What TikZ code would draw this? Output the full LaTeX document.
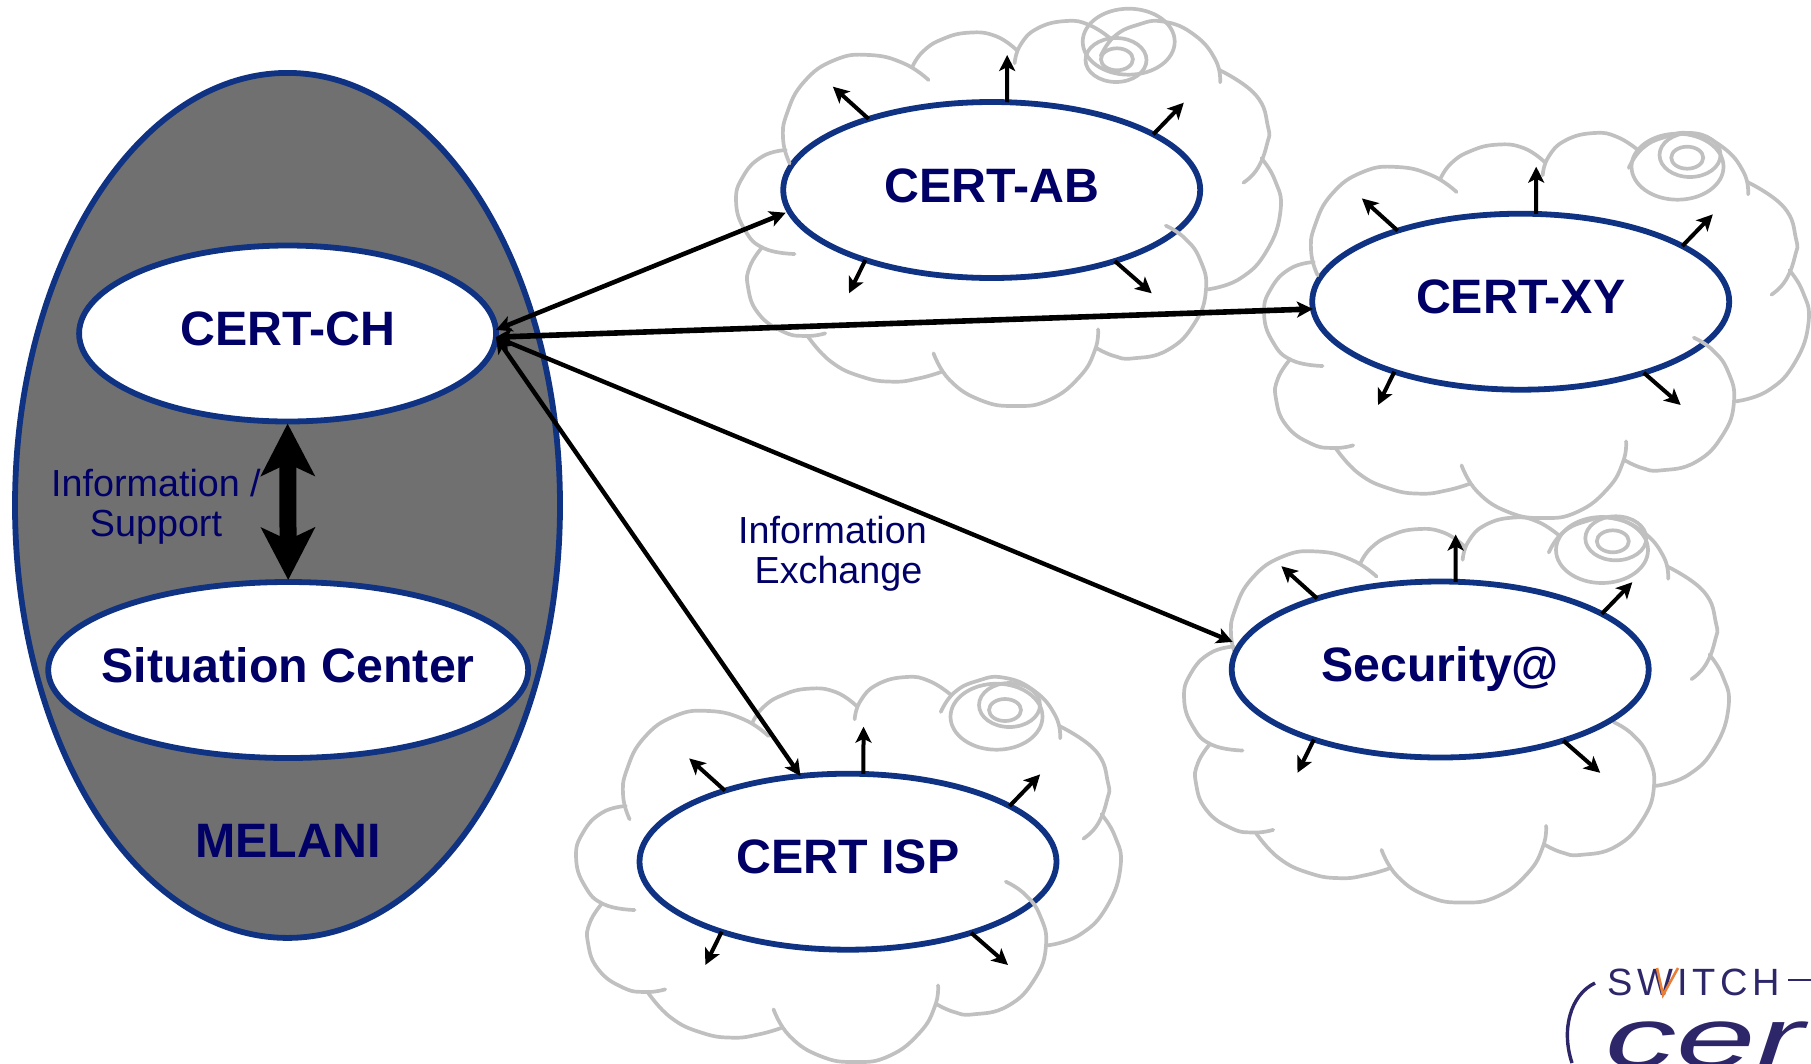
\documentclass[tikz,border=0pt]{standalone}
\usepackage{fontspec}
\setmainfont{Liberation Sans}
\usetikzlibrary{arrows.meta,shapes.geometric}
\definecolor{ringblue}{RGB}{15,50,130}
\definecolor{navytext}{RGB}{0,0,102}
\definecolor{melanigrey}{RGB}{112,112,112}
\definecolor{cloudgrey}{RGB}{192,192,192}
\definecolor{logoblue}{RGB}{45,38,105}
\definecolor{logoorange}{RGB}{232,128,58}
\tikzset{
  blob/.style={ellipse,draw=ringblue,line width=5.8pt,fill=white,inner sep=0pt,outer sep=0pt,
    minimum width=417pt,minimum height=176pt,text=navytext,text height=34pt,text depth=10pt,
    font=\fontsize{48.3}{50}\selectfont\bfseries},
  cloudline/.style={draw=cloudgrey,line width=3.7pt,line cap=round},
  sat/.style={draw=black,line width=4pt,-{Stealth[length=16pt,width=16pt,inset=4pt]}},
  linkarrow/.style={draw=black,line width=#1,{Stealth[length=16pt,width=16pt,inset=4pt]}-{Stealth[length=16pt,width=16pt,inset=4pt]}},
  supportarrow/.style={draw=black,line width=17pt,shorten <=2pt,shorten >=2pt,{Stealth[length=52pt,width=53pt,inset=12pt]}-{Stealth[length=52pt,width=53pt,inset=12pt]}},
  plainlabel/.style={text=navytext,align=center,inner sep=0pt,font=\fontsize{37.7}{40.4}\selectfont},
}
\newcommand{\arcline}[1]{\draw[cloudline] plot[smooth,tension=.8] coordinates {#1};}
% outline of a cloud; coordinates are those of the CERT-AB cloud
\newcommand{\cloudoutline}[2]{%
\begin{scope}[shift={(720+#1,#2)},x=0.38265pt,y=-0.33333pt]
\arcline{(172,450) (110,470) (60,530) (42,605) (65,690) (115,745) (195,762)}
\arcline{(108,745) (78,800) (73,860) (100,940) (165,995) (225,1008) (275,1000)}
\arcline{(230,1010) (290,1085) (370,1130) (450,1145) (520,1135) (580,1115)}
\arcline{(558,1060) (600,1140) (680,1200) (770,1218) (860,1200) (940,1130) (980,1050) (988,988)}
\arcline{(985,1045) (1030,1068) (1080,1075) (1170,1050) (1240,970) (1270,870) (1255,780) (1215,715) (1165,677)}
\arcline{(1275,868) (1360,835) (1430,750) (1465,630) (1450,540) (1415,475)}
\arcline{(1368,548) (1405,505) (1430,430) (1432,380) (1400,285) (1305,210)}
\arcline{(1307,247) (1295,180) (1240,105) (1160,65) (1090,75) (1030,110) (995,168)}
\arcline{(1020,115) (965,75) (905,63) (830,85) (785,135) (770,190)}
\arcline{(775,150) (720,108) (650,98) (580,118) (530,155) (503,200)}
\arcline{(545,240) (480,190) (390,165) (300,180) (220,245) (175,340) (165,420) (182,490)}
\end{scope}}
% the three rings of the curl
\newcommand{\curl}[6]{%
\draw[cloudline] (#1,#2) ellipse [x radius=46,y radius=33];
\draw[cloudline] (#3,#4) ellipse [x radius=30.5,y radius=22];
\draw[cloudline] (#5,#6) ellipse [x radius=16,y radius=11];}
% the five short arrows round a node
\newcommand{\satellites}[1]{%
\coordinate (#1nw) at ([shift={(-158.8,-103.3)}]#1.center);
\coordinate (#1n) at ([shift={(15.5,-135)}]#1.center);
\coordinate (#1ne) at ([shift={(192.1,-87.3)}]#1.center);
\coordinate (#1sw) at ([shift={(-142.7,103.3)}]#1.center);
\coordinate (#1se) at ([shift={(160,103.3)}]#1.center);
\draw[sat] (#1.150) -- (#1nw);
\draw[sat] (#1.80) -- (#1n);
\draw[sat] (#1.19.4) -- (#1ne);
\draw[sat] (#1.209.2) -- (#1sw);
\draw[sat] (#1.330.8) -- (#1se);}
\begin{document}
\begin{tikzpicture}[x=1pt,y=-1pt]
\useasboundingbox (0,0) rectangle (1811,1063);
% MELANI
\node[ellipse,draw=ringblue,line width=5.8pt,fill=melanigrey,inner sep=0pt,outer sep=0pt,
  minimum width=545pt,minimum height=865pt] (melani) at (287.5,505.4) {};
\node[blob] (ch) at (287.6,333.5) {CERT-CH};
\node[blob,minimum width=480pt] (sc) at (288.2,670) {\makebox[0pt][c]{Situation Center}};
\node[anchor=base,inner sep=0pt,text=navytext,font=\fontsize{48.3}{50}\selectfont\bfseries] (melanilabel) at (288,857) {MELANI};
\draw[supportarrow] (ch.south) -- (sc.north);
\node[plainlabel] (supportlabel) at (156,506.5) {Information /\\Support};
% peers
\node[blob] (ab) at (991.7,190) {CERT-AB};
\cloudoutline{0}{0}
\curl{1128.7}{41.7}{1116}{60}{1116.9}{59.3}
\node[blob] (xy) at (1520.7,301.7) {CERT-XY};
\cloudoutline{528}{112}
\curl{1677.5}{166.7}{1690}{155}{1687.2}{157.7}
\cloudoutline{448}{496.5}
\node[blob] (sec) at (1440.2,669.5) {Security@};
\curl{1602}{550}{1615.8}{538.3}{1612.8}{541.3}
\node[blob] (isp) at (848,861.7) {CERT ISP};
\cloudoutline{-160}{656}
\curl{996.5}{716.7}{1009.5}{705}{1005}{710}
\satellites{ab}
\satellites{xy}
\satellites{sec}
\satellites{isp}
% exchange links
\draw[linkarrow=4.6pt,shorten >=4pt] (ch.1) -- (ab.186.6);
\draw[linkarrow=5.6pt] (ch.-1) -- (xy.182.3);
\draw[linkarrow=4.4pt,shorten >=8pt] (ch.-1) -- (sec.173.5);
\draw[linkarrow=4.4pt] (ch.-1) -- (isp.119.3);
\node[plainlabel] (exchangelabel) at (838.5,554) {Information\hspace*{12pt}\\Exchange};
% logo, cut off by the page edge
\node[anchor=base west,inner sep=0pt,text=logoblue,font=\fontsize{38}{40}\selectfont\addfontfeature{LetterSpace=12}] (switchtext) at (1607,995) {SWITCH};
\coordinate (dashstart) at (1788,980);
\coordinate (dashend) at (1811,980);
\draw[logoblue,line width=2.6pt] (dashstart) -- (dashend);
\coordinate (wa) at (1657,968);
\coordinate (wb) at (1663,995);
\coordinate (wc) at (1678,968);
\draw[logoorange,line width=2.6pt] (wa) -- (wb) -- (wc);
\coordinate (brtop) at (1595,983);
\coordinate (brbot) at (1572,1063);
\draw[logoblue,line width=3.4pt] (brtop) .. controls (1570,995) and (1561,1030) .. (brbot);
\node[anchor=base west,inner sep=0pt,text=logoblue,font=\fontsize{85}{90}\selectfont\itshape] (certext) at (1605,1067) {\scalebox{1.68}[1]{cer}};
\end{tikzpicture}
\end{document}
